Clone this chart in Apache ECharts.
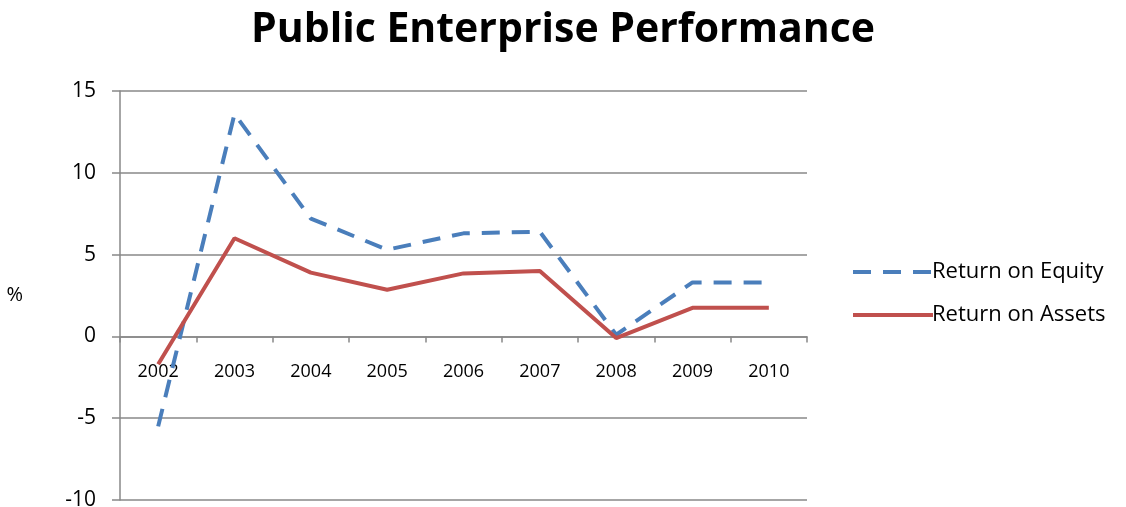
<!DOCTYPE html>
<html><head><meta charset="utf-8">
<script src="https://cdn.jsdelivr.net/npm/echarts@6/dist/echarts.min.js"></script>
<style>html,body{margin:0;padding:0;background:#fff}#c{width:1126px;height:507px}</style>
</head><body><div id="c"></div>
<script>
const years = ['2002','2003','2004','2005','2006','2007','2008','2009','2010'];
const returnOnEquity = [-5.5, 13.6, 7.2, 5.3, 6.3, 6.4, 0.1, 3.3, 3.3];
const returnOnAssets = [-1.7, 6.0, 3.9, 2.85, 3.85, 4.0, -0.1, 1.75, 1.75];
const yTicks = { min: -10, max: 15, interval: 5 };

const font = '"Open Sans", "Liberation Sans", sans-serif';
const blue = '#4a7ebb', red = '#c0504d';
const chart = echarts.init(document.getElementById('c'));
chart.setOption({
  animation: false,
  title: { text: 'Public Enterprise Performance', left: 'center', top: 5,
    textStyle: { fontFamily: font, fontWeight: 'bold', fontSize: 41, color: '#000' } },
  grid: { left: 120, right: 319, top: 91, bottom: 7, containLabel: false, outerBoundsMode: 'none' },
  legend: {
    orient: 'vertical', left: 846, top: 256, itemGap: 21, itemWidth: 80, itemHeight: 16,
    textStyle: { fontFamily: font, fontSize: 22, color: '#000', padding: [0,0,0,-6] },
    itemStyle: { opacity: 0 },
    data: [
      { name: 'Return on Equity', lineStyle: { width: 4, type: [18, 12], color: blue } },
      { name: 'Return on Assets', lineStyle: { width: 4, color: red } }
    ]
  },
  xAxis: [{
    type: 'category', data: years, boundaryGap: true,
    axisLine: { onZero: true, lineStyle: { color: '#888', width: 1.5 } },
    axisTick: { show: true, length: 6, inside: false, lineStyle: { color: '#888', width: 1.5 } },
    axisLabel: { show: false },
    splitLine: { show: false }
  }, {
    type: 'category', data: years, boundaryGap: true, position: 'bottom', offset: -164,
    axisLine: { show: false, onZero: false }, axisTick: { show: false },
    axisLabel: { fontFamily: font, fontSize: 18, color: '#000', margin: 27 },
    splitLine: { show: false }
  }],
  yAxis: {
    type: 'value', min: yTicks.min, max: yTicks.max, interval: yTicks.interval,
    name: '%', nameLocation: 'middle', nameGap: 97, nameRotate: 0,
    nameTextStyle: { fontFamily: font, fontSize: 20, color: '#000', padding: [0,0,86,0] },
    axisLine: { show: true, lineStyle: { color: '#888', width: 1.5 } },
    axisTick: { show: true, length: 8, lineStyle: { color: '#888', width: 1.5 } },
    axisLabel: { fontFamily: font, fontSize: 21, color: '#000', margin: 24 },
    splitLine: { show: true, lineStyle: { color: '#888', width: 1.5 } }
  },
  series: [
    { name: 'Return on Equity', type: 'line', data: returnOnEquity, symbol: 'none',
      lineStyle: { color: blue, width: 4, type: [18, 12] }, itemStyle: { color: blue } },
    { name: 'Return on Assets', type: 'line', data: returnOnAssets, symbol: 'none',
      lineStyle: { color: red, width: 4 }, itemStyle: { color: red } }
  ]
});
</script></body></html>
